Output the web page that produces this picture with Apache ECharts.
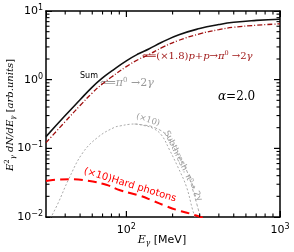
<!DOCTYPE html>
<html><head><meta charset="utf-8">
<script src="https://cdn.jsdelivr.net/npm/echarts@6/dist/echarts.min.js"></script>
<style>html,body{margin:0;padding:0;background:#fff}#c{width:294px;height:252px}</style>
</head><body><div id="c"></div>
<script>
// ---- data ----
const energies   = [30, 40, 50, 60, 70, 80, 100, 120, 140, 170, 220, 300, 400, 500, 700, 1000];
const sumValues  = [0.148, 0.30, 0.51, 0.78, 1.06, 1.33, 1.88, 2.38, 2.80, 3.5, 4.5, 5.55, 6.35, 6.85, 7.3, 7.6];
const ppValues   = [0.121, 0.245, 0.42, 0.64, 0.87, 1.09, 1.55, 1.97, 2.32, 2.92, 3.75, 4.65, 5.35, 5.8, 6.2, 6.5];
const subEnergies = [32, 36, 42, 52, 66, 84, 91, 105, 113, 130, 149, 169, 191, 216, 246, 270, 282];
const subValues   = [0.0095, 0.016, 0.035, 0.086, 0.148, 0.203, 0.212, 0.224, 0.226, 0.215, 0.196, 0.157, 0.095, 0.054, 0.0277, 0.0127, 0.0095];
const sub2Energies = [113, 130, 149, 182, 215, 246, 275, 305];
const sub2Values   = [0.226, 0.218, 0.205, 0.157, 0.083, 0.0485, 0.022, 0.0095];
const hardEnergies = [30, 35, 43, 55, 74, 91, 122, 149, 180, 212, 260, 300, 340];
const hardValues   = [0.0335, 0.035, 0.0355, 0.034, 0.0295, 0.0245, 0.0205, 0.0172, 0.0145, 0.0127, 0.0112, 0.0101, 0.0093];
const xMin = 30, xMax = 1000, yMin = 0.01, yMax = 10;
const xMajorTicks = [100, 1000];
const yMajorTicks = [0.1, 1];
const xMinorTicks = [40, 50, 60, 70, 80, 90, 200, 300, 400, 500, 600, 700, 800, 900];
const yMinorTicks = [0.02, 0.03, 0.04, 0.05, 0.06, 0.07, 0.08, 0.09, 0.2, 0.3, 0.4, 0.5, 0.6, 0.7, 0.8, 0.9, 2, 3, 4, 5, 6, 7, 8, 9];

const zip = (a, b) => a.map((v, i) => [v, b[i]]);
const chart = echarts.init(document.getElementById('c'), null, {renderer: 'canvas'});

function expLabel(v) {
  const l = Math.log10(v), e = Math.round(l);
  if (Math.abs(l - e) > 1e-6) return '';
  return '{b|10}{s|' + (e < 0 ? '\u2212' + (-e) : e) + '}';
}
function labelRich() {
  return {
    b: {fontSize: 11, fontFamily: 'DejaVu Sans', color: '#000'},
    s: {fontSize: 8, fontFamily: 'DejaVu Sans', color: '#000', verticalAlign: 'top', padding: [0, 0, 6, 0]}
  };
}
function makeAxis(position, min, max, showLabel, margin) {
  return {
    type: 'log', logBase: 10, position: position, min: min, max: max,
    axisLine: {show: true, onZero: false, lineStyle: {color: '#000', width: 1.5}},
    axisTick: {show: true, inside: true, length: 6, lineStyle: {color: '#000', width: 1}},
    splitLine: {show: false},
    axisLabel: showLabel ? {show: true, margin: margin, formatter: expLabel, rich: labelRich(), showMinLabel: position !== 'bottom'} : {show: false}
  };
}

const textGraphics = [
  {type: 'text', x: 80, y: 76, style: {text: 'Sum', fontSize: 8, fontFamily: 'DejaVu Sans', fill: '#000', verticalAlign: 'middle'}},
  {type: 'text', x: 100, y: 83, style: {
    text: '{a|\u27F8}{i|\u03C0}{s|0}{a| \u21922}{i|\u03B3}', verticalAlign: 'middle',
    rich: {a: {fontSize: 11, fontFamily: 'DejaVu Serif', fill: '#999'},
           i: {fontSize: 11, fontFamily: 'DejaVu Serif', fontStyle: 'italic', fill: '#999'},
           s: {fontSize: 7, fontFamily: 'DejaVu Serif', fill: '#999', verticalAlign: 'top', padding: [0, 0, 6, 0]}}}},
  {type: 'text', x: 142, y: 56, style: {
    text: '{a|\u27F8(\u00D71.8)}{i|p}{a|+}{i|p}{a|\u2192}{i|\u03C0}{s|0}{a| \u21922}{i|\u03B3}', verticalAlign: 'middle',
    rich: {a: {fontSize: 10, fontFamily: 'DejaVu Serif', fill: '#a01818'},
           i: {fontSize: 10, fontFamily: 'DejaVu Serif', fontStyle: 'italic', fill: '#a01818'},
           s: {fontSize: 6.5, fontFamily: 'DejaVu Serif', fill: '#a01818', verticalAlign: 'top', padding: [0, 0, 6, 0]}}}},
  {type: 'text', x: 218, y: 97, style: {
    text: '{i|\u03B1}{a|=2.0}', verticalAlign: 'middle',
    rich: {a: {fontSize: 12, fontFamily: 'DejaVu Serif', fill: '#000'},
           i: {fontSize: 12, fontFamily: 'DejaVu Serif', fontStyle: 'italic', fill: '#000'}}}},
  {type: 'text', x: 130, y: 185, rotation: -17 * Math.PI / 180, style: {
    text: '(\u00D710)Hard photons', fontSize: 10, fontFamily: 'DejaVu Sans', fill: '#ff0000', align: 'center', verticalAlign: 'middle'}},
  {type: 'text', x: 148, y: 120, rotation: -18 * Math.PI / 180, style: {
    text: '(\u00D710)', fontSize: 8.5, fontFamily: 'DejaVu Serif', fill: '#999', align: 'center', verticalAlign: 'middle'}},
  {type: 'text', x: 183, y: 166, rotation: -64 * Math.PI / 180, style: {
    text: 'Subthresh. \u03C0\u2070\u2192 2\u03B3', fontSize: 8.5, fontFamily: 'DejaVu Sans', fill: '#999', align: 'center', verticalAlign: 'middle'}},
  {type: 'text', x: 10, y: 115, rotation: Math.PI / 2, style: {
    text: '{i|E}{s|2}{u|\u03B3}{a| }{i|dN/dE}{u|\u03B3}{a| [}{i|arb.units}{a|]}', align: 'center', verticalAlign: 'middle',
    rich: {a: {fontSize: 10, fontFamily: 'DejaVu Serif', fill: '#000'},
           i: {fontSize: 10, fontFamily: 'DejaVu Serif', fontStyle: 'italic', fill: '#000'},
           s: {fontSize: 7, fontFamily: 'DejaVu Serif', fill: '#000', verticalAlign: 'top', padding: [0, 0, 6, 0]},
           u: {fontSize: 7, fontFamily: 'DejaVu Serif', fontStyle: 'italic', fill: '#000', verticalAlign: 'bottom', padding: [6, 0, 0, 0]}}}},
  {type: 'text', x: 162, y: 240, style: {
    text: '{i|E}{u|\u03B3}{a| [MeV]}', align: 'center', verticalAlign: 'middle',
    rich: {a: {fontSize: 11, fontFamily: 'DejaVu Sans', fill: '#000'},
           i: {fontSize: 11, fontFamily: 'DejaVu Serif', fontStyle: 'italic', fill: '#000'},
           u: {fontSize: 7.5, fontFamily: 'DejaVu Serif', fontStyle: 'italic', fill: '#000', verticalAlign: 'bottom', padding: [6, 0, 0, 0]}}}}
];

const baseSeries = [
  {type: 'line', data: zip(hardEnergies, hardValues), showSymbol: false, smooth: 0.4,
   lineStyle: {color: '#ff0000', width: 2, type: [9, 5]}, z: 3},
  {type: 'line', data: zip(subEnergies, subValues), showSymbol: false, smooth: 0.4,
   lineStyle: {color: '#aaaaaa', width: 1, type: [2, 2]}, z: 2},
  {type: 'line', data: zip(sub2Energies, sub2Values), showSymbol: false, smooth: 0.4,
   lineStyle: {color: '#aaaaaa', width: 1, type: [3, 2]}, z: 2},
  {type: 'line', data: zip(energies, ppValues), showSymbol: false, smooth: 0.5,
   lineStyle: {color: '#a01010', width: 1.3, type: [5, 2, 1, 2]}, z: 4},
  {type: 'line', data: zip(energies, sumValues), showSymbol: false, smooth: 0.5,
   lineStyle: {color: '#111', width: 1.6}, z: 5}
];

chart.setOption({
  animation: false,
  backgroundColor: '#fff',
  grid: {left: 46, right: 14, top: 11, bottom: 35, containLabel: false, outerBoundsMode: 'none'},
  xAxis: [makeAxis('bottom', xMin, xMax, true, 6), makeAxis('top', xMin, xMax, false)],
  yAxis: [makeAxis('left', yMin, yMax, true, 3), makeAxis('right', yMin, yMax, false)],
  series: baseSeries
});

// tick marks on all four sides as short segments in data space, sized from the axes' own log scales
const xDecadePx = chart.convertToPixel({xAxisIndex: 0}, 1000) - chart.convertToPixel({xAxisIndex: 0}, 100);
const yDecadePx = chart.convertToPixel({yAxisIndex: 0}, 1) - chart.convertToPixel({yAxisIndex: 0}, 10);
const xr = L => Math.pow(10, L / xDecadePx), yr = L => Math.pow(10, L / yDecadePx);
const tickSeries = [];
const seg = (a, b) => tickSeries.push({type: 'line', data: [a, b], showSymbol: false, silent: true, clip: false, z: 10,
  lineStyle: {color: '#000', width: 1.1}});
function xTicks(vals, L) {
  vals.forEach(v => { seg([v, yMin], [v, yMin * yr(L)]); seg([v, yMax], [v, yMax / yr(L)]); });
}
function yTicks(vals, L) {
  vals.forEach(v => { seg([xMin, v], [xMin * xr(L), v]); seg([xMax, v], [xMax / xr(L), v]); });
}
xTicks(xMinorTicks, 3.5); yTicks(yMinorTicks, 3.5);
xTicks(xMajorTicks, 6); yTicks(yMajorTicks, 6);

chart.setOption({series: baseSeries.concat(tickSeries), graphic: textGraphics});
</script></body></html>
